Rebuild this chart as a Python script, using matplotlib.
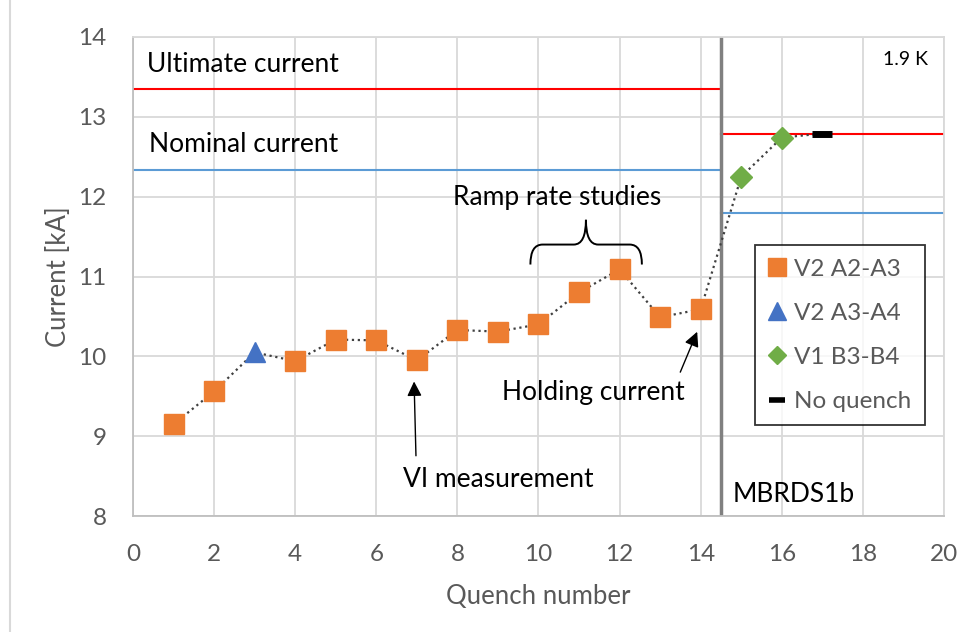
import matplotlib.pyplot as plt
from matplotlib.path import Path
from matplotlib.patches import PathPatch
from matplotlib.lines import Line2D

plt.rcParams['font.family'] = ['Lato', 'DejaVu Sans']

# donnees
quench_v2a23 = [1, 2, 4, 5, 6, 7, 8, 9, 10, 11, 12, 13, 14]
current_v2a23 = [9.15, 9.56, 9.94, 10.21, 10.2, 9.95, 10.33, 10.31, 10.4, 10.8, 11.09, 10.49, 10.59]
quench_v2a34 = [3]
current_v2a34 = [10.05]
quench_v1b34 = [15, 16]
current_v1b34 = [12.25, 12.74]
quench_noq = [17]
current_noq = [12.79]

all_quench = [1, 2, 3, 4, 5, 6, 7, 8, 9, 10, 11, 12, 13, 14, 15, 16, 17]
all_current = [9.15, 9.56, 10.05, 9.94, 10.21, 10.2, 9.95, 10.33, 10.31, 10.4, 10.8, 11.09, 10.49, 10.59, 12.25, 12.74, 12.79]

# limites (kA) : aimant 1 puis MBRDS1b
split_x = 14.5
ultimate_1, nominal_1 = 13.35, 12.34
ultimate_2, nominal_2 = 12.78, 11.8

orange = '#ed7d31'
blue = '#4472c4'
green = '#70ad47'
grey_txt = '#595959'

fig = plt.figure(figsize=(9.75, 6.32), dpi=100)
ax = fig.add_axes([0.1364, 0.1835, 0.8318, 0.758])

ax.set_xlim(0, 20)
ax.set_ylim(8, 14)
ax.set_xticks(range(0, 21, 2))
ax.set_yticks(range(8, 15))
ax.grid(True, color='#d9d9d9', lw=1.3)
ax.set_axisbelow(True)
for s in ['top', 'right']:
    ax.spines[s].set_color('#d9d9d9')
    ax.spines[s].set_linewidth(1.3)
for s in ['left', 'bottom']:
    ax.spines[s].set_color('#bfbfbf')
    ax.spines[s].set_linewidth(1.3)
ax.tick_params(length=0, labelsize=17.5, labelcolor=grey_txt)
ax.tick_params(axis='y', pad=19)
ax.tick_params(axis='x', pad=20)

# lignes de reference
ax.plot([0, split_x], [ultimate_1, ultimate_1], color='red', lw=1.5, zorder=2)
ax.plot([0, split_x], [nominal_1, nominal_1], color='#5b9bd5', lw=1.5, zorder=2)
ax.plot([split_x, 20], [ultimate_2, ultimate_2], color='red', lw=1.5, zorder=2)
ax.plot([split_x, 20], [nominal_2, nominal_2], color='#5b9bd5', lw=1.5, zorder=2)
ax.axvline(split_x, color='#808080', lw=2.5, zorder=2)

ax.plot(all_quench, all_current, ls=':', color='#404040', lw=1.6, zorder=3)
ax.plot(quench_v2a23, current_v2a23, 's', color=orange, ms=14.5, zorder=4, label='V2 A2-A3')
ax.plot(quench_v2a34, current_v2a34, '^', color=blue, ms=14, zorder=4, label='V2 A3-A4')
ax.plot(quench_v1b34, current_v1b34, 'D', color=green, ms=11, zorder=4, label='V1 B3-B4')
ax.plot(quench_noq, current_noq, '_', color='black', ms=14, mew=5, zorder=4, label='No quench')

handles = [Line2D([], [], ls='', marker='s', color=orange, ms=13),
           Line2D([], [], ls='', marker='^', color=blue, ms=13),
           Line2D([], [], ls='', marker='D', color=green, ms=9),
           Line2D([], [], ls='', marker='_', color='black', ms=12, mew=4)]
leg = ax.legend(handles, ['V2 A2-A3', 'V2 A3-A4', 'V1 B3-B4', 'No quench'],
                loc='upper left', bbox_to_anchor=(0.767, 0.565), fontsize=17.5,
                labelcolor=grey_txt, frameon=True, fancybox=False, edgecolor='black',
                handlelength=0.7, handletextpad=0.35, labelspacing=0.95,
                borderpad=0.55, borderaxespad=0)
leg.get_frame().set_linewidth(1.3)

ax.text(0.35, 13.65, 'Ultimate current', fontsize=19, va='center')
ax.text(0.4, 12.65, 'Nominal current', fontsize=19, va='center')
ax.text(14.78, 8.27, 'MBRDS1b', fontsize=19, va='center')
ax.text(19.6, 13.72, '1.9 K', fontsize=14, va='center', ha='right')
ax.text(10.45, 11.99, 'Ramp rate studies', fontsize=19, ha='center', va='center')

# accolade au dessus des points 10-12
x0, x1, xm = 9.8, 12.55, 11.17
yb, yh, yt = 11.15, 11.4, 11.71
verts = [(x0, yb), (x0, yh), (x0 + 0.3, yh),
         (xm - 0.3, yh),
         (xm, yh), (xm, yt),
         (xm, yh), (xm + 0.3, yh),
         (x1 - 0.3, yh),
         (x1, yh), (x1, yb)]
codes = [Path.MOVETO, Path.CURVE3, Path.CURVE3,
         Path.LINETO,
         Path.CURVE3, Path.CURVE3,
         Path.CURVE3, Path.CURVE3,
         Path.LINETO,
         Path.CURVE3, Path.CURVE3]
ax.add_patch(PathPatch(Path(verts, codes), fill=False, color='black', lw=1.4, zorder=3))

ax.text(9.0, 8.46, 'VI measurement', fontsize=19, ha='center', va='center')
ax.annotate('', xy=(6.93, 9.72), xytext=(6.98, 8.72),
            arrowprops=dict(arrowstyle='-|>', color='black', lw=1, mutation_scale=22))
ax.text(11.36, 9.55, 'Holding current', fontsize=19, ha='center', va='center')
ax.annotate('', xy=(13.94, 10.34), xytext=(13.47, 9.77),
            arrowprops=dict(arrowstyle='-|>', color='black', lw=1, mutation_scale=22))

ax.set_xlabel('Quench number', fontsize=18.5, color=grey_txt, labelpad=14)
ax.set_ylabel('Current [kA]', fontsize=18.5, color=grey_txt, labelpad=5)

fig.add_artist(Line2D([0.0103, 0.0103], [0, 1], color='#d9d9d9', lw=1.5))

fig.savefig('out.png', dpi=100)
